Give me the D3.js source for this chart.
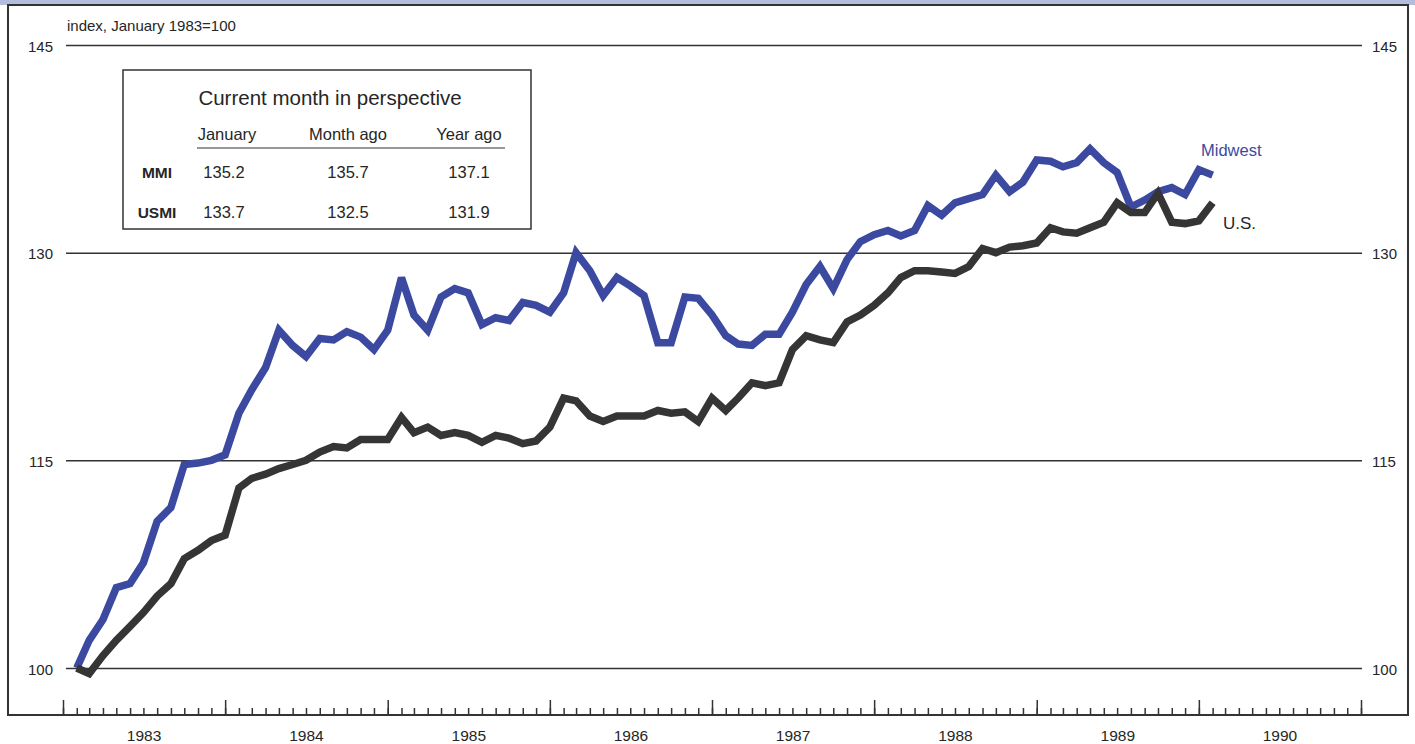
<!DOCTYPE html>
<html>
<head>
<meta charset="utf-8">
<script src="https://cdn.jsdelivr.net/npm/d3@7"></script>
<style>
  body { margin: 0; background: #fff; }
  text { font-family: "Liberation Sans", Arial, sans-serif; fill: #262626; }
</style>
</head>
<body>
<div id="chart"></div>
<script>
// monthly index, January 1983 = 100 (Jan 1983 .. Jan 1990)
var startYear = 1983;
var midwest = [
  100.0, 102.0, 103.5, 105.8, 106.1, 107.6, 110.6, 111.6, 114.7, 114.8, 115.0, 115.4,
  118.4, 120.1, 121.7, 124.4, 123.3, 122.5, 123.8, 123.7, 124.3, 123.9, 123.0, 124.4,
  128.2, 125.5, 124.4, 126.8, 127.4, 127.1, 124.8, 125.3, 125.1, 126.4, 126.2, 125.7,
  127.1, 130.0, 128.7, 126.9, 128.2, 127.6, 126.9, 123.5, 123.5, 126.8, 126.7, 125.5,
  124.0, 123.4, 123.3, 124.1, 124.1, 125.7, 127.7, 129.0, 127.4, 129.5, 130.8, 131.3,
  131.6, 131.2, 131.6, 133.4, 132.7, 133.6, 133.9, 134.2, 135.6, 134.4, 135.1, 136.7,
  136.6, 136.2, 136.5, 137.5, 136.5, 135.8, 133.3, 133.8, 134.4, 134.7, 134.2, 136.0,
  135.6
];
var us = [
  100.0, 99.6, 100.9, 102.0, 103.0, 104.0, 105.2, 106.1, 107.9, 108.5, 109.2, 109.6,
  113.0, 113.7, 114.0, 114.4, 114.7, 115.0, 115.6, 116.0, 115.9, 116.5, 116.5, 116.5,
  118.1, 117.0, 117.4, 116.8, 117.0, 116.8, 116.3, 116.8, 116.6, 116.2, 116.4, 117.4,
  119.5, 119.3, 118.2, 117.8, 118.2, 118.2, 118.2, 118.6, 118.4, 118.5, 117.8, 119.5,
  118.6, 119.5, 120.6, 120.4, 120.6, 123.0, 124.0, 123.7, 123.5, 125.0, 125.5, 126.2,
  127.1, 128.2, 128.7, 128.7, 128.6, 128.5, 129.0, 130.3, 130.0, 130.4, 130.5, 130.7,
  131.8, 131.5, 131.4, 131.8, 132.2, 133.6, 132.9, 132.9, 134.3, 132.2, 132.1, 132.3,
  133.6
];
var yTicks = [100, 115, 130, 145];
var yearLabels = [1983, 1984, 1985, 1986, 1987, 1988, 1989, 1990];

// table "Current month in perspective"
var tableTitle = "Current month in perspective";
var tableCols = ["January", "Month ago", "Year ago"];
var tableRowNames = ["MMI", "USMI"];
var mmiValues = [135.2, 135.7, 137.1];
var usmiValues = [133.7, 132.5, 131.9];

var blue = "#3b4aa0", dark = "#353535";

var W = 1415, H = 744;
var svg = d3.select("#chart").append("svg")
  .attr("width", W).attr("height", H);

// top band + frame
svg.append("rect").attr("x", 0).attr("y", 0).attr("width", W).attr("height", 5)
  .attr("fill", "#b3bedf");
svg.append("rect").attr("x", 8).attr("y", 5).attr("width", 1400).attr("height", 710)
  .attr("fill", "none").attr("stroke", "#333").attr("stroke-width", 2);

// scales: each month plotted at its end
var x = d3.scaleUtc()
  .domain([new Date(Date.UTC(1983, 0, 1)), new Date(Date.UTC(1991, 0, 1))])
  .range([63, 1361]);
var y = d3.scaleLinear().domain([100, 145]).range([668, 45]);

function monthDate(i) { return new Date(Date.UTC(startYear, i + 1, 1)); }

// gridlines + left labels
var yLeft = svg.append("g")
  .attr("transform", "translate(66,0)")
  .call(d3.axisLeft(y).tickValues(yTicks).tickSize(-1296).tickPadding(13));
yLeft.select(".domain").remove();
yLeft.selectAll("line").attr("stroke", "#333").attr("stroke-width", 1.5);
yLeft.selectAll("text").style("font-size", "15px").attr("fill", "#262626").attr("dy", "0.4em");

var yRight = svg.append("g")
  .attr("transform", "translate(1362,0)")
  .call(d3.axisRight(y).tickValues(yTicks).tickSize(0).tickPadding(10));
yRight.select(".domain").remove();
yRight.selectAll("text").style("font-size", "15px").attr("fill", "#262626").attr("dy", "0.4em");

// month ticks (pointing up from the frame bottom)
var xMinor = svg.append("g")
  .attr("transform", "translate(0,715)")
  .call(d3.axisTop(x).ticks(d3.utcMonth.every(1)).tickSize(7).tickFormat(""));
xMinor.select(".domain").remove();
xMinor.selectAll("line").attr("stroke", "#333").attr("stroke-width", 1.5);

var xMajor = svg.append("g")
  .attr("transform", "translate(0,715)")
  .call(d3.axisTop(x).ticks(d3.utcYear.every(1)).tickSize(15).tickFormat(""));
xMajor.select(".domain").remove();
xMajor.selectAll("line").attr("stroke", "#333").attr("stroke-width", 1.5);

// year labels centred in each year
svg.append("g").selectAll("text")
  .data(yearLabels)
  .enter().append("text")
    .attr("x", function(d) { return (x(new Date(Date.UTC(d, 0, 1))) + x(new Date(Date.UTC(d + 1, 0, 1)))) / 2; })
    .attr("y", 741)
    .attr("text-anchor", "middle")
    .style("font-size", "15.5px")
    .text(function(d) { return d; });

// axis title
svg.append("text").attr("x", 67).attr("y", 31)
  .style("font-size", "15px")
  .text("index, January 1983=100");

// lines
var line = d3.line()
  .x(function(d, i) { return x(monthDate(i)); })
  .y(function(d) { return y(d); });

svg.append("path").datum(midwest)
  .attr("d", line)
  .attr("fill", "none").attr("stroke", blue)
  .attr("stroke-width", 7.5).attr("stroke-miterlimit", 3);

svg.append("path").datum(us)
  .attr("d", line)
  .attr("fill", "none").attr("stroke", dark)
  .attr("stroke-width", 7.5).attr("stroke-miterlimit", 3);

// series labels
svg.append("text").attr("x", 1201).attr("y", 156)
  .style("font-size", "16.5px").style("fill", blue)
  .text("Midwest");
svg.append("text").attr("x", 1223).attr("y", 229)
  .style("font-size", "17px")
  .text("U.S.");

// table box
var tbl = svg.append("g");
tbl.append("rect").attr("x", 123).attr("y", 70).attr("width", 408).attr("height", 159)
  .attr("fill", "#fff").attr("stroke", "#333").attr("stroke-width", 1.5);
tbl.append("text").attr("x", 330).attr("y", 105)
  .attr("text-anchor", "middle").style("font-size", "20.5px")
  .text(tableTitle);

var colX = [227, 348, 469];
tbl.selectAll(".colhead")
  .data(tableCols)
  .enter().append("text")
    .attr("class", "colhead")
    .attr("x", function(d, i) { return colX[i]; })
    .attr("y", 140)
    .attr("text-anchor", "middle")
    .style("font-size", "16.5px")
    .text(function(d) { return d; });
tbl.append("line").attr("x1", 197).attr("x2", 505).attr("y1", 148).attr("y2", 148)
  .attr("stroke", "#333").attr("stroke-width", 1.2);

var rowY = [178, 218];
var rowValues = [mmiValues, usmiValues];
tableRowNames.forEach(function(name, r) {
  tbl.append("text").attr("x", 157).attr("y", rowY[r])
    .attr("text-anchor", "middle").style("font-size", "15.5px").style("font-weight", "bold")
    .text(name);
  tbl.selectAll(".row" + r)
    .data(rowValues[r])
    .enter().append("text")
      .attr("class", "row" + r)
      .attr("x", function(d, i) { return colX[i] - (i == 0 ? 3 : 0); })
      .attr("y", rowY[r])
      .attr("text-anchor", "middle")
      .style("font-size", "16.5px")
      .text(function(d) { return d3.format(".1f")(d); });
});
</script>
</body>
</html>
